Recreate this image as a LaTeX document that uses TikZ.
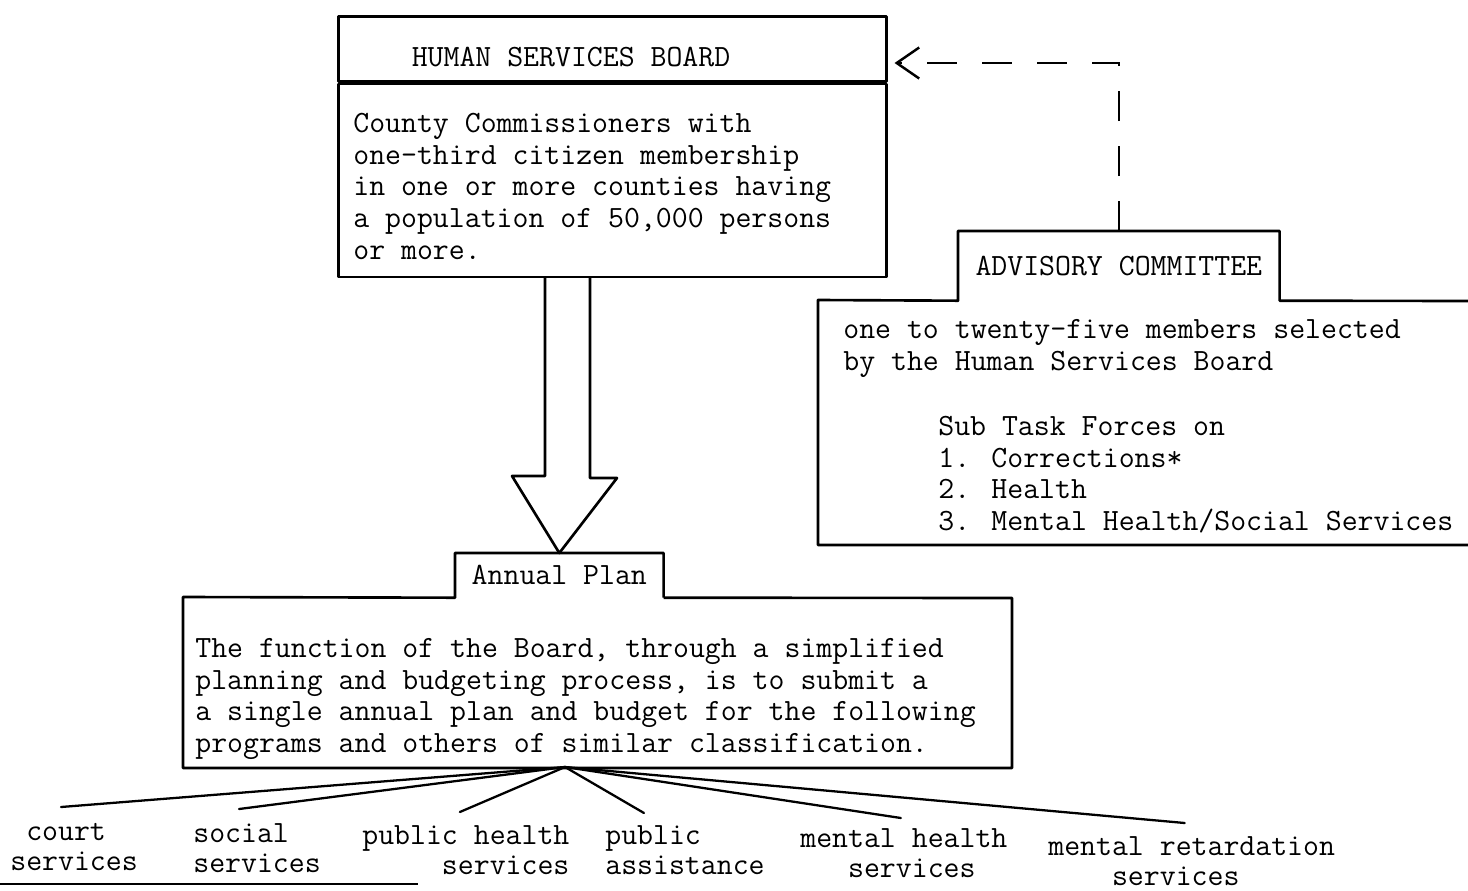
\documentclass[tikz,border=0pt]{standalone}
\usepackage{fontspec}
\usepackage{tikz}
\usetikzlibrary{positioning, calc, arrows.meta}
\tikzstyle{DashArrow} = [
%dashed line with open head:
line width = 1.4pt,
dash pattern = on 0.6cm off 0.5cm,
-{Straight Barb[length = 0.45cm, width = 0.62cm, line width = 1.4pt]},
shorten >= 0.14cm
]

\begin{document}
\begin{tikzpicture}[x = 0.02cm, y = -0.02cm,
			every node/.style = {font = \ttfamily\fontsize{17.6}{18}\selectfont, inner sep = 0pt},
			frame/.style = {line width = 1.5pt, line join = round},
			fan/.style = {line width = 1.3pt, line cap = round},
			box/.style = {rectangle, draw, frame, anchor = north west},
			body/.style = {align = left, anchor = north west},
			item/.style = {align = left, anchor = north west, font = \ttfamily\fontsize{17.6}{17}\selectfont},
		]
		\useasboundingbox (0,0) rectangle (1468,890);

		\node[box, minimum width = 10.96cm, minimum height = 1.3cm](HSB) at (337,15){};
		\node[box, minimum width = 10.96cm, minimum height = 3.86cm](HSBbody) at (HSB.south west){};
		\node(HSBtitle) at (571,57){HUMAN SERVICES BOARD};
		\node[body](HSBtext) at (353,113){County Commissioners with\\one-third citizen membership\\in one or more counties having\\a population of 50,000 persons\\or more.};

		\node[minimum width = 6.42cm, minimum height = 1.38cm, anchor = north west](ADV) at (958,231){ADVISORY COMMITTEE};
		\draw[frame](1468,301)--(ADV.south east)--(ADV.north east)--(ADV.north west)--(ADV.south west)--(818,300)--(818,545)--(1468,545);
		\node[body](ADVtext) at (843,319){one to twenty-five members selected\\by the Human Services Board};
		\node[body](ADVlist) at (938,416){Sub Task Forces on\\1. Corrections*\\2. Health\\3. Mental Health/Social Services};

		\node[minimum width = 4.16cm, minimum height = 0.88cm, anchor = north west](AP) at (455,553){Annual Plan};
		\draw[frame](AP.south east)--(AP.north east)--(AP.north west)--(AP.south west)--(183,597)--(183,768)--(1012,768)--(1012,598)--(AP.south east);
		\node[body](APtext) at (195,638){The function of the Board, through a simplified\\planning and budgeting process, is to submit a\\a single annual plan and budget for the following\\programs and others of similar classification.};

		\coordinate(SL) at (545,476);
		\coordinate(SR) at (590,478);
		\draw[frame](HSBbody.south -| SL)--(SL)--(512,476)--(AP.north)--(617,478)--(SR)--(HSBbody.south -| SR);

		\coordinate(bend) at (1117,63);
		\draw[DashArrow](ADV.north)|-(HSB.east |- bend);

		\node[item](court) at (10,823){\hphantom{x}court\\services};
		\node[item](social) at (193,823){social\\services};
		\node[item](pubhealth) at (362,825){public health\\\hphantom{xxxxx}services};
		\node[item](pubassist) at (605,825){public\\assistance};
		\node[item](menhealth) at (800,828){mental health\\\hphantom{xxx}services};
		\node[item](menretard) at (1048,836){mental retardation\\\hphantom{xxxx}services};

		\coordinate(hub) at (565,767);
		\draw[fan](hub)--($(court.north)+(-13,-16)$);
		\draw[fan](hub)--($(social.north)+(-18,-14)$);
		\draw[fan](hub)--($(pubhealth.north)+(-6,-13)$);
		\draw[fan](hub)--($(pubassist.north)+(-41,-12)$);
		\draw[fan](hub)--($(menhealth.north)+(-3,-10)$);
		\draw[fan](hub)--($(menretard.north)+(-7,-13)$);

		\draw[frame](0,884)--(418,884);

	\end{tikzpicture}
\end{document}
